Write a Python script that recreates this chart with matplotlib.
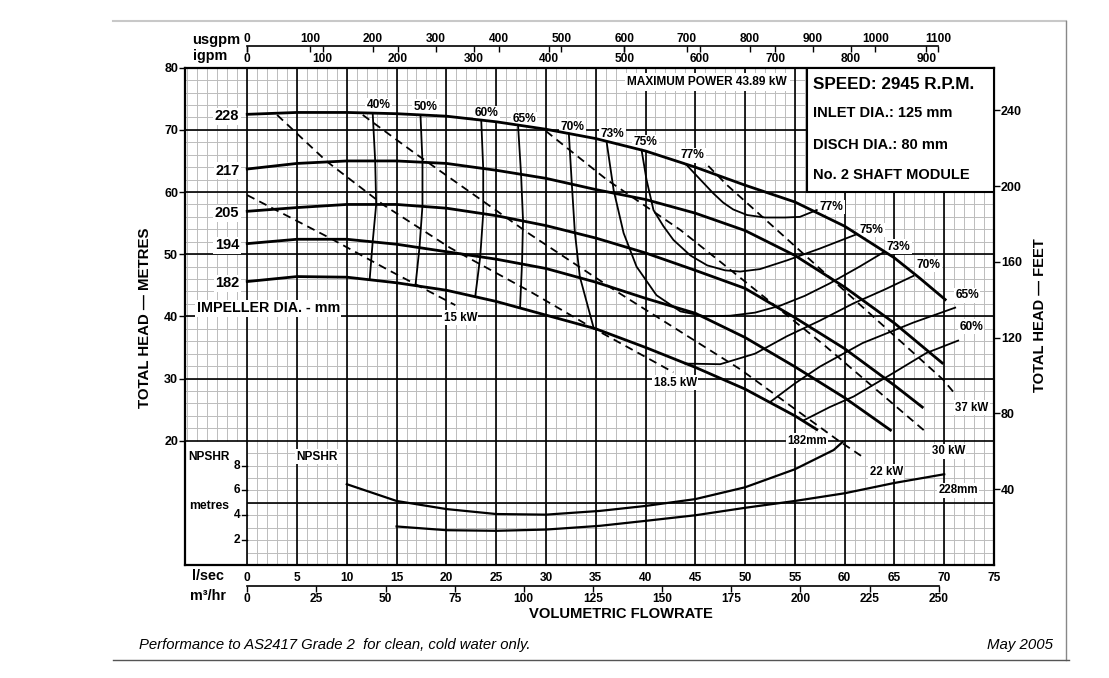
import numpy as np
import matplotlib.pyplot as plt
from matplotlib.lines import Line2D
from matplotlib.patches import Rectangle

plt.rcParams['font.family'] = ['Liberation Sans', 'DejaVu Sans']
plt.rcParams['font.weight'] = 'bold'

# head curves (l/sec -> metres) for each impeller diameter
q228 = [0, 5, 10, 15, 20, 25, 30, 35, 40, 45, 50, 55, 60, 65, 67.5, 70.1]
h228 = [72.5, 72.8, 72.8, 72.6, 72.2, 71.3, 70.1, 68.6, 66.6, 64.0, 61.1, 58.4, 54.5, 49.4, 46.2, 42.7]
q217 = [0, 5, 10, 15, 20, 25, 30, 35, 40, 45, 50, 55, 60, 65, 69.8]
h217 = [63.7, 64.6, 65.0, 65.0, 64.6, 63.5, 62.2, 60.4, 58.8, 56.6, 53.8, 49.8, 44.7, 38.9, 32.5]
q205 = [0, 5, 10, 15, 20, 25, 30, 35, 40, 45, 50, 55, 60, 65, 67.8]
h205 = [56.9, 57.5, 58.0, 58.0, 57.4, 56.2, 54.6, 52.6, 50.2, 47.4, 44.5, 39.8, 34.8, 28.9, 25.4]
q194 = [0, 5, 10, 15, 20, 25, 30, 35, 40, 45, 50, 55, 60, 64.6]
h194 = [51.7, 52.4, 52.4, 51.6, 50.4, 49.2, 47.7, 45.5, 42.9, 40.5, 36.6, 31.9, 26.9, 21.7]
q182 = [0, 5, 10, 15, 20, 25, 30, 35, 40, 45, 50, 55, 57.2]
h182 = [45.6, 46.4, 46.3, 45.4, 44.2, 42.4, 40.2, 38.0, 35.0, 31.8, 28.3, 24.0, 21.8]
diameters = ['228', '217', '205', '194', '182']

# efficiency contours
eff_lines = {
    '40%': ([12.6, 12.85, 12.95, 12.6, 12.3], [72.7, 65.0, 58.0, 52.0, 46.0]),
    '50%': ([17.4, 17.6, 17.6, 17.3, 16.9], [72.4, 64.9, 57.8, 51.1, 45.0]),
    '60%': ([23.5, 23.7, 23.7, 23.4, 22.9], [71.6, 63.8, 56.5, 49.6, 43.2]),
    '65%': ([27.2, 27.5, 27.7, 27.6, 27.4], [70.7, 62.9, 55.4, 48.6, 41.4]),
    '70%': ([32.3, 32.6, 32.9, 33.4, 34.8], [69.4, 61.3, 53.6, 46.4, 38.1]),
    '73%': ([36.1, 36.8, 37.8, 39.1, 41.1, 43.5, 46.0, 48.5, 51.0, 53.5, 56.0, 58.5, 61.5, 63.9],
            [68.0, 60.3, 53.4, 48.0, 43.4, 40.8, 40.0, 40.1, 40.6, 41.7, 43.3, 45.3, 48.0, 50.3]),
    '75%': ([39.6, 40.1, 40.8, 41.8, 42.8, 44.5, 46.2, 48.0, 49.5, 51.5, 54.2, 57.5, 61.2],
            [66.8, 62.0, 57.1, 54.5, 52.3, 49.8, 48.2, 47.4, 47.2, 47.6, 49.0, 50.9, 53.2]),
    '77%': ([44.1, 44.8, 45.8, 46.8, 47.8, 48.8, 50.2, 52.0, 54.0, 55.5, 57.2],
            [64.4, 63.2, 61.5, 59.8, 58.3, 57.2, 56.3, 55.9, 55.9, 56.0, 57.1]),
    '70%r': ([44.0, 47.5, 51.0, 54.2, 57.5, 60.9, 64.0, 66.9],
             [32.4, 32.3, 34.0, 36.8, 39.3, 42.1, 44.3, 46.5]),
    '65%r': ([52.5, 55.0, 57.5, 61.8, 66.9, 71.1], [26.2, 29.2, 31.9, 35.7, 39.0, 41.4]),
    '60%r': ([55.8, 58.5, 60.9, 64.9, 68.2, 71.4], [23.2, 25.4, 27.1, 30.9, 34.1, 36.1]),
}
eff_top_lbl = ['40%', '50%', '60%', '65%', '70%', '73%', '75%', '77%']
eff_top_q = [13.2, 17.9, 24.0, 27.8, 32.7, 36.7, 40.0, 44.7]
eff_top_h = [74.0, 73.7, 72.7, 71.7, 70.5, 69.3, 68.0, 65.9]
eff_rt_lbl = ['77%', '75%', '73%', '70%', '65%', '60%']
eff_rt_q = [58.7, 62.7, 65.4, 68.4, 72.3, 72.7]
eff_rt_h = [57.6, 53.9, 51.2, 48.3, 43.4, 38.3]

# power lines (dashed)
power_lines = {
    '15 kW': ([0, 8.3, 14, 20.9], [59.5, 52.6, 47.6, 41.8]),
    '18.5 kW': ([3.0, 8.0, 13.7, 20.4, 28.4, 34.4, 42.8], [72.4, 64.9, 57.9, 51.0, 44.0, 38.4, 31.0]),
    '22 kW': ([11.6, 16.7, 28.4, 37.1, 49.5, 59.3, 61.8], [72.4, 66.4, 53.2, 44.0, 31.5, 20.1, 17.4]),
    '30 kW': ([30.0, 36.1, 43.5, 47.5, 58.0, 68.3], [69.8, 62.0, 53.9, 48.8, 35.3, 21.2]),
    '37 kW': ([46.3, 48.2, 60.0, 69.9, 71.2], [64.2, 61.1, 44.1, 29.8, 27.3]),
}
power_lbl_q = [21.4, 43.0, 64.2, 70.4, 72.8]
power_lbl_h = [39.8, 29.3, 15.0, 18.3, 25.3]

# NPSHR curves (metres of NPSH)
npsh_q182 = [10, 15, 20, 25, 30, 35.4, 40, 45, 50, 55, 58.9, 59.8]
npsh_182 = [6.5, 5.15, 4.5, 4.1, 4.05, 4.35, 4.75, 5.3, 6.25, 7.7, 9.25, 9.9]
npsh_q228 = [15, 20, 25, 30, 35.4, 40, 45, 50, 55, 60, 65, 70]
npsh_228 = [3.1, 2.8, 2.75, 2.85, 3.15, 3.55, 4.0, 4.6, 5.15, 5.77, 6.6, 7.3]
npsh_ticks = [2, 4, 6, 8]
NPSH_SCALE = 2.0  # npsh metres drawn at double scale in the bottom panel

W, H = 1109, 678
fig = plt.figure(figsize=(W / 100, H / 100), dpi=100)
ax = fig.add_axes([185 / W, 1 - 565 / H, (994 - 185) / W, (565 - 67.7) / H])
ax.set_xlim(-6.25, 75)
ax.set_ylim(0, 80)

# grid
minor = '#bcbcbc'
mq = np.arange(-6, 75)
ax.vlines(mq[mq < 0], 20, 80, color=minor, lw=0.7, zorder=1)
ax.vlines(mq[mq >= 0], 0, 80, color=minor, lw=0.7, zorder=1)
mh = np.arange(2, 80, 2)
ax.hlines(mh[mh > 20], -6.25, 75, color=minor, lw=0.7, zorder=1)
ax.hlines(mh[mh < 20], 0, 75, color=minor, lw=0.7, zorder=1)
ax.vlines(np.arange(0, 75, 5), 0, 80, color='k', lw=1.2, zorder=2)
ax.hlines(np.arange(20, 80, 10), -6.25, 75, color='k', lw=1.2, zorder=2)
ax.hlines(10, 0, 75, color='k', lw=1.2, zorder=2)
for s in ax.spines.values():
    s.set_linewidth(1.6)

# labels sit above the grid but below the curves
LZ = 2.5
wbox = dict(facecolor='white', edgecolor='none', pad=1.0)

# head curves
heads = [(q228, h228), (q217, h217), (q205, h205), (q194, h194), (q182, h182)]
for d, (q, h) in zip(diameters, heads):
    ax.plot(q, h, color='k', lw=2.0, zorder=4)
    ax.text(-0.8, h[0] - 0.3, d, ha='right', va='center', fontsize=10.5, bbox=wbox, zorder=LZ)

for name, (q, h) in eff_lines.items():
    ax.plot(q, h, color='k', lw=1.3, zorder=3)
for t, q, h in zip(eff_top_lbl + eff_rt_lbl, eff_top_q + eff_rt_q, eff_top_h + eff_rt_h):
    ax.text(q, h, t, ha='center', va='center', fontsize=8.6, bbox=wbox, zorder=LZ)

for name, (q, h) in power_lines.items():
    ax.plot(q, h, color='k', lw=1.3, dashes=(4.5, 3), zorder=3)
for t, q, h in zip(power_lines.keys(), power_lbl_q, power_lbl_h):
    ax.text(q, h, t, ha='center', va='center', fontsize=8.3, bbox=wbox, zorder=LZ)

# NPSHR panel
ax.plot(npsh_q182, np.array(npsh_182) * NPSH_SCALE, color='k', lw=1.6, zorder=4)
ax.plot(npsh_q228, np.array(npsh_228) * NPSH_SCALE, color='k', lw=1.6, zorder=4)
ax.text(56.2, 20.0, '182mm', ha='center', va='center', fontsize=8.3, bbox=wbox, zorder=LZ)
ax.text(71.4, 12.0, '228mm', ha='center', va='center', fontsize=8.3, bbox=wbox, zorder=LZ)
ax.text(7.0, 17.4, 'NPSHR', ha='center', va='center', fontsize=8.6, bbox=wbox, zorder=LZ)
for n in npsh_ticks:
    ax.plot([-0.5, 0], [n * NPSH_SCALE] * 2, color='k', lw=1, zorder=5)
    ax.text(-0.7, n * NPSH_SCALE, str(n), ha='right', va='center', fontsize=8.6)
ax.text(-3.8, 17.4, 'NPSHR', ha='center', va='center', fontsize=8.6)
ax.text(-3.8, 9.5, 'metres', ha='center', va='center', fontsize=8.8)

ax.text(2.1, 41.3, 'IMPELLER DIA. - mm', ha='center', va='center', fontsize=10.3, bbox=wbox, zorder=LZ)
ax.text(46.2, 77.7, 'MAXIMUM POWER 43.89 kW', ha='center', va='center', fontsize=8.6,
        bbox=dict(facecolor='white', edgecolor='none', pad=2), zorder=LZ)

# info box
ax.add_patch(Rectangle((56.2, 60), 75 - 56.2, 20, facecolor='white', edgecolor='k', lw=1.5, zorder=7))
ax.text(56.8, 77.3, 'SPEED: 2945 R.P.M.', fontsize=12.3, va='center', zorder=8)
ax.text(56.8, 72.7, 'INLET DIA.: 125 mm', fontsize=10.5, va='center', zorder=8)
ax.text(56.8, 67.6, 'DISCH DIA.: 80 mm', fontsize=10.5, va='center', zorder=8)
ax.text(56.8, 62.75, 'No. 2 SHAFT MODULE', fontsize=10.5, va='center', zorder=8)

# axes ticks
ax.set_xticks(range(0, 76, 5))
ax.tick_params(axis='x', length=0, pad=5, labelsize=8.6)
ax.set_yticks(range(20, 81, 10))
ax.tick_params(axis='y', length=4, width=1, pad=1, labelsize=9)

ax_h = 565 - 67.7
LS_USGPM = 0.0630902
LS_IGPM = 0.0757682
top1 = ax.secondary_xaxis(1 + 21.7 / ax_h, functions=(lambda q: q / LS_USGPM, lambda g: g * LS_USGPM))
top1.set_xticks(range(0, 1101, 100))
top1.tick_params(direction='in', length=4, width=1, labelsize=8.6, pad=1)
top1.spines['top'].set_bounds(0, 1100)
top1.spines['top'].set_linewidth(1.2)
top2 = ax.secondary_xaxis(1 + 21.7 / ax_h, functions=(lambda q: q / LS_IGPM, lambda g: g * LS_IGPM))
top2.set_alignment('bottom')
top2.spines['bottom'].set_visible(False)
top2.set_xticks(range(0, 901, 100))
top2.tick_params(direction='out', length=4, width=1, labelsize=8.6, pad=1)

bot = ax.secondary_xaxis(-20.7 / ax_h, functions=(lambda q: q * 3.6, lambda m: m / 3.6))
bot.set_xticks(range(0, 251, 25))
bot.tick_params(direction='out', length=4, width=1, labelsize=8.6, pad=1)
bot.spines['bottom'].set_bounds(0, 250)
bot.spines['bottom'].set_linewidth(1.2)

ax.tick_params(axis='y', right=False)
feet = ax.secondary_yaxis('right', functions=(lambda m: m * 3.28084, lambda f: f / 3.28084))
feet.set_yticks(range(40, 241, 40))
feet.tick_params(direction='out', length=4, width=1, labelsize=9, pad=1)
feet.spines['right'].set_visible(False)

fig.text(216 / W, 1 - 40 / H, 'usgpm', ha='center', va='center', fontsize=10.5)
fig.text(210 / W, 1 - 56 / H, 'igpm', ha='center', va='center', fontsize=10.3)
fig.text(208 / W, 1 - 576 / H, 'l/sec', ha='center', va='center', fontsize=10.4)
fig.text(208 / W, 1 - 596 / H, 'm³/hr', ha='center', va='center', fontsize=10.4)
fig.text(621 / W, 1 - 614 / H, 'VOLUMETRIC FLOWRATE', ha='center', va='center', fontsize=10.6)
fig.text(145 / W, 1 - 318 / H, 'TOTAL HEAD — METRES', rotation=90, ha='center', va='center', fontsize=10.8)
fig.text(1040 / W, 1 - 315 / H, 'TOTAL HEAD — FEET', rotation=90, ha='center', va='center', fontsize=10.6)
fig.text(139 / W, 1 - 645 / H, 'Performance to AS2417 Grade 2  for clean, cold water only.',
         style='italic', fontweight='normal', fontsize=10.7, va='center')
fig.text(1053 / W, 1 - 645 / H, 'May 2005', style='italic', fontweight='normal', fontsize=10.8,
         ha='right', va='center')

# page border
fig.add_artist(Line2D([113 / W, 1066 / W], [1 - 21 / H, 1 - 21 / H], color='#c8c8c8', lw=1.5))
fig.add_artist(Line2D([1066 / W, 1066 / W], [1 - 21 / H, 1 - 660 / H], color='#888888', lw=1.0))
fig.add_artist(Line2D([113 / W, 1069 / W], [1 - 660 / H, 1 - 660 / H], color='#555555', lw=1.0))

fig.savefig('out.png', dpi=100)
